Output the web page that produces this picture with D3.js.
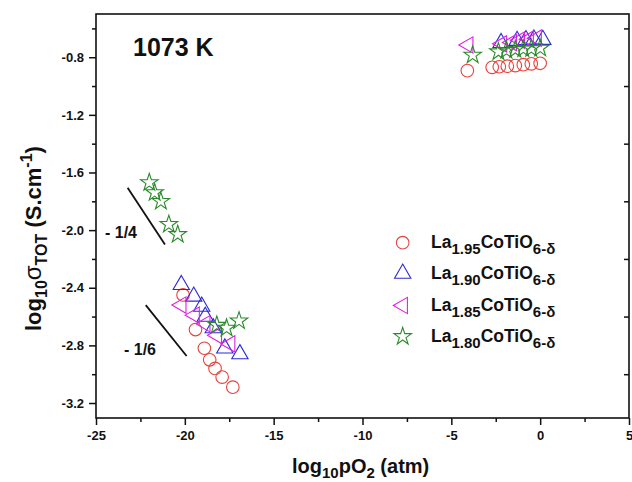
<!DOCTYPE html>
<html>
<head>
<meta charset="utf-8">
<script src="https://cdn.jsdelivr.net/npm/d3@7"></script>
<style>
  html, body { margin: 0; padding: 0; background: #ffffff; }
  svg { display: block; font-family: Arial, "Liberation Sans", sans-serif; }
</style>
</head>
<body>
<svg id="chart" width="632" height="482"></svg>
<script>
// log10(pO2) [atm] and log10(sigma_TOT) [S/cm] at 1073 K
const la195X = [-20.1, -19.4, -18.9, -18.6, -18.3, -17.9, -17.3, -4.1, -2.7, -2.3, -1.85, -1.4, -0.95, -0.5, 0.0];
const la195Y = [-2.45, -2.69, -2.82, -2.90, -2.96, -3.02, -3.09, -0.893, -0.870, -0.866, -0.862, -0.858, -0.852, -0.846, -0.842];

const la190X = [-20.2, -19.5, -19.05, -18.85, -18.4, -17.75, -16.9, -2.2, -1.3, -0.8, -0.35, 0.15];
const la190Y = [-2.38, -2.46, -2.53, -2.60, -2.68, -2.82, -2.86, -0.700, -0.685, -0.680, -0.676, -0.678];

const la185X = [-20.2, -19.45, -18.85, -18.2, -17.45, -4.05, -2.15, -1.6, -1.15, -0.65, -0.2];
const la185Y = [-2.52, -2.59, -2.65, -2.73, -2.79, -0.715, -0.707, -0.698, -0.682, -0.675, -0.668];

const la180X = [-22.0, -21.7, -21.35, -20.9, -20.4, -18.2, -17.65, -16.95, -3.8, -2.35, -1.9, -1.4, -0.95, -0.5, 0.0];
const la180Y = [-1.67, -1.74, -1.80, -1.96, -2.03, -2.66, -2.68, -2.63, -0.785, -0.762, -0.752, -0.746, -0.742, -0.740, -0.737];

const seriesNames = ["1.95", "1.90", "1.85", "1.80"];
const xTicks = [-25, -20, -15, -10, -5, 0, 5];
const xMinor = [-22.5, -17.5, -12.5, -7.5, -2.5, 2.5];
const yTicks = [-3.2, -2.8, -2.4, -2.0, -1.6, -1.2, -0.8];
const yMinor = [-3.0, -2.6, -2.2, -1.8, -1.4, -1.0, -0.6];

// guide lines for the pO2 dependence (endpoints in data units)
const slopeQuarter = [[-23.22, -1.706], [-21.12, -2.10]];
const slopeSixth = [[-22.2, -2.521], [-19.9, -2.874]];

const svg = d3.select("#chart");
const plotL = 96, plotR = 629, plotT = 14, plotB = 418;

const x = d3.scaleLinear().domain([-25, 5]).range([plotL, plotR]);
const y = d3.scaleLinear().domain([-3.304, -0.5]).range([plotB, plotT]);

// plain hyphen-minus in tick labels
const fmtInt = d => d3.format("d")(d).replace("\u2212", "-");
const fmtOne = d => d3.format(".1f")(d).replace("\u2212", "-");

const colors = ["#e8423c", "#2b2bd6", "#e020e0", "#2a8a2a"];
const symbols = [
  { type: d3.symbolCircle, size: 125, rot: 0 },
  { type: d3.symbolTriangle, size: 115, rot: 0 },
  { type: d3.symbolTriangle, size: 115, rot: -90 },
  { type: d3.symbolStar, size: 95, rot: 0 }
];

// frame
svg.append("rect")
  .attr("x", plotL).attr("y", plotT)
  .attr("width", plotR - plotL).attr("height", plotB - plotT)
  .attr("fill", "none").attr("stroke", "#111").attr("stroke-width", 1.6);

// bottom axis
svg.append("g").attr("transform", `translate(0,${plotB})`)
  .call(d3.axisBottom(x).tickValues(xTicks).tickSize(7).tickSizeOuter(0).tickPadding(6)
  .tickFormat(fmtInt));
svg.append("g").attr("transform", `translate(0,${plotB})`)
  .call(d3.axisBottom(x).tickValues(xMinor).tickSize(4).tickSizeOuter(0).tickFormat(""));

// left axis
svg.append("g").attr("transform", `translate(${plotL},0)`)
  .call(d3.axisLeft(y).tickValues(yTicks).tickSize(7).tickSizeOuter(0).tickPadding(5)
  .tickFormat(fmtOne));
svg.append("g").attr("transform", `translate(${plotL},0)`)
  .call(d3.axisLeft(y).tickValues(yMinor).tickSize(4).tickSizeOuter(0).tickFormat(""));

// right axis: inward ticks
svg.append("g").attr("transform", `translate(${plotR},0)`)
  .call(d3.axisLeft(y).tickValues(yMinor).tickSize(5).tickSizeOuter(0).tickFormat(""));

svg.selectAll(".domain").remove();
svg.selectAll(".tick line").attr("stroke", "#111").attr("stroke-width", 1.5);
svg.selectAll(".tick text")
  .attr("fill", "#111").style("font-size", "13px").style("font-weight", "bold")
  .style("font-family", "Arial, 'Liberation Sans', sans-serif");

// data
const allX = [la195X, la190X, la185X, la180X];
const allY = [la195Y, la190Y, la185Y, la180Y];
allX.forEach((xs, i) => {
  const pts = xs.map((v, j) => [v, allY[i][j]]);
  const sym = symbols[i];
  svg.append("g").selectAll("path").data(pts).join("path")
    .attr("d", d3.symbol().type(sym.type).size(sym.size))
    .attr("transform", d => `translate(${x(d[0])},${y(d[1])}) rotate(${sym.rot})`)
    .attr("fill", "none").attr("stroke", colors[i]).attr("stroke-width", 1.1);
});

// slope guides
const line = d3.line().x(d => x(d[0])).y(d => y(d[1]));
[slopeQuarter, slopeSixth].forEach(s => {
  svg.append("path").attr("d", line(s))
    .attr("stroke", "#111").attr("stroke-width", 1.8).attr("fill", "none");
});
svg.append("text").attr("x", 105).attr("y", 238)
  .style("font-size", "16px").style("font-weight", "bold").attr("fill", "#111").text("- 1/4");
svg.append("text").attr("x", 124).attr("y", 355)
  .style("font-size", "16px").style("font-weight", "bold").attr("fill", "#111").text("- 1/6");

// temperature label
svg.append("text").attr("x", 133).attr("y", 56)
  .style("font-size", "25px").style("font-weight", "bold").attr("fill", "#111").text("1073 K");

// legend
const legendY = [242.7, 273.5, 305.5, 336.5];
seriesNames.forEach((name, i) => {
  const sym = symbols[i];
  svg.append("path")
    .attr("d", d3.symbol().type(sym.type).size(sym.size)())
    .attr("transform", `translate(402.7,${legendY[i]}) rotate(${sym.rot})`)
    .attr("fill", "none").attr("stroke", colors[i]).attr("stroke-width", 1.1);
  const t = svg.append("text").attr("x", 431).attr("y", legendY[i] + 5)
    .style("font-size", "17.5px").style("font-weight", "bold").attr("fill", "#111");
  t.append("tspan").text("La");
  t.append("tspan").attr("dy", 6).style("font-size", "15px").text(name);
  t.append("tspan").attr("dy", -6).text("CoTiO");
  t.append("tspan").attr("dy", 6).style("font-size", "15px").text("6-\u03b4");
});

// axis titles
const xt = svg.append("text").attr("x", 292).attr("y", 473)
  .style("font-size", "20px").style("font-weight", "bold").attr("fill", "#111");
xt.append("tspan").text("log");
xt.append("tspan").attr("dy", 5).style("font-size", "15px").text("10");
xt.append("tspan").attr("dy", -5).text("pO");
xt.append("tspan").attr("dy", 5).style("font-size", "15px").text("2");
xt.append("tspan").attr("dy", -5).text(" (atm)");

const yt = svg.append("text").attr("transform", "translate(41,331) rotate(-90)")
  .style("font-size", "22px").style("font-weight", "bold").attr("fill", "#111");
yt.append("tspan").text("log");
yt.append("tspan").attr("dy", 6).style("font-size", "16px").text("10");
yt.append("tspan").attr("dy", -6).style("font-weight", "normal").style("font-size", "24px").text("\u03c3");
yt.append("tspan").attr("dy", 6).style("font-size", "16px").text("TOT");
yt.append("tspan").attr("dy", -6).text(" (S.cm");
yt.append("tspan").attr("dy", -9).style("font-size", "16px").text("-1");
yt.append("tspan").attr("dy", 9).text(")");
</script>
</body>
</html>
